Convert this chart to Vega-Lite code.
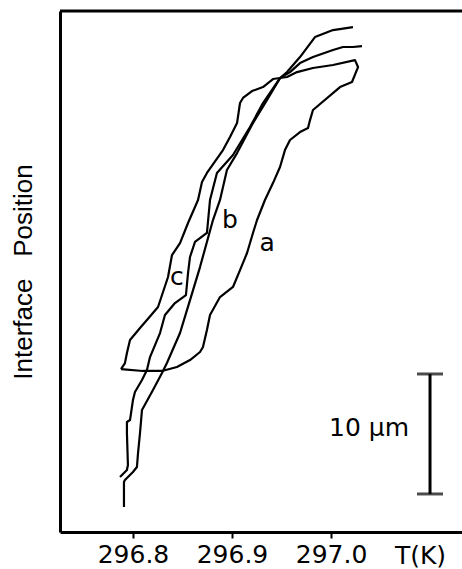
{
  "$schema": "https://vega.github.io/schema/vega-lite/v6.json",
  "width": 402,
  "height": 521,
  "autosize": "none",
  "padding": {"left": 60, "top": 11, "right": 0, "bottom": 37},
  "background": "white",
  "config": {"view": {"stroke": null}, "font": "DejaVu Sans"},
  "datasets": {
    "curves": [
      {"s": "a", "i": 1, "T": 296.7879, "pos": 13.58},
      {"s": "a", "i": 2, "T": 296.8101, "pos": 13.42},
      {"s": "a", "i": 3, "T": 296.8293, "pos": 13.42},
      {"s": "a", "i": 4, "T": 296.8444, "pos": 13.75},
      {"s": "a", "i": 5, "T": 296.8576, "pos": 14.33},
      {"s": "a", "i": 6, "T": 296.8677, "pos": 15.0},
      {"s": "a", "i": 7, "T": 296.8707, "pos": 15.42},
      {"s": "a", "i": 8, "T": 296.8747, "pos": 16.83},
      {"s": "a", "i": 9, "T": 296.8778, "pos": 18.08},
      {"s": "a", "i": 10, "T": 296.8879, "pos": 19.58},
      {"s": "a", "i": 11, "T": 296.901, "pos": 20.42},
      {"s": "a", "i": 12, "T": 296.9081, "pos": 21.83},
      {"s": "a", "i": 13, "T": 296.9152, "pos": 23.25},
      {"s": "a", "i": 14, "T": 296.9212, "pos": 24.92},
      {"s": "a", "i": 15, "T": 296.9253, "pos": 26.0},
      {"s": "a", "i": 16, "T": 296.9333, "pos": 27.67},
      {"s": "a", "i": 17, "T": 296.9414, "pos": 29.08},
      {"s": "a", "i": 18, "T": 296.9485, "pos": 30.42},
      {"s": "a", "i": 19, "T": 296.9535, "pos": 31.83},
      {"s": "a", "i": 20, "T": 296.9586, "pos": 32.67},
      {"s": "a", "i": 21, "T": 296.9687, "pos": 33.33},
      {"s": "a", "i": 22, "T": 296.9768, "pos": 33.67},
      {"s": "a", "i": 23, "T": 296.9788, "pos": 34.33},
      {"s": "a", "i": 24, "T": 296.9818, "pos": 35.17},
      {"s": "a", "i": 25, "T": 297.0091, "pos": 37.08},
      {"s": "a", "i": 26, "T": 297.0212, "pos": 37.5},
      {"s": "a", "i": 27, "T": 297.0273, "pos": 38.75},
      {"s": "a", "i": 28, "T": 297.0242, "pos": 39.33},
      {"s": "a", "i": 29, "T": 297.002, "pos": 38.92},
      {"s": "a", "i": 30, "T": 296.9818, "pos": 38.67},
      {"s": "a", "i": 31, "T": 296.9657, "pos": 38.33},
      {"s": "a", "i": 32, "T": 296.9556, "pos": 37.92},
      {"s": "a", "i": 33, "T": 296.9414, "pos": 37.75},
      {"s": "a", "i": 34, "T": 296.9313, "pos": 37.08},
      {"s": "a", "i": 35, "T": 296.9202, "pos": 36.75},
      {"s": "a", "i": 36, "T": 296.9111, "pos": 36.17},
      {"s": "a", "i": 37, "T": 296.9081, "pos": 35.75},
      {"s": "a", "i": 38, "T": 296.9051, "pos": 34.08},
      {"s": "a", "i": 39, "T": 296.898, "pos": 32.92},
      {"s": "a", "i": 40, "T": 296.8909, "pos": 31.83},
      {"s": "a", "i": 41, "T": 296.8747, "pos": 29.92},
      {"s": "a", "i": 42, "T": 296.8697, "pos": 29.17},
      {"s": "a", "i": 43, "T": 296.8657, "pos": 27.67},
      {"s": "a", "i": 44, "T": 296.8556, "pos": 25.75},
      {"s": "a", "i": 45, "T": 296.8475, "pos": 24.08},
      {"s": "a", "i": 46, "T": 296.8394, "pos": 23.08},
      {"s": "a", "i": 47, "T": 296.8354, "pos": 21.25},
      {"s": "a", "i": 48, "T": 296.8253, "pos": 18.75},
      {"s": "a", "i": 49, "T": 296.8141, "pos": 17.67},
      {"s": "a", "i": 50, "T": 296.8071, "pos": 17.0},
      {"s": "a", "i": 51, "T": 296.797, "pos": 16.0},
      {"s": "a", "i": 52, "T": 296.7939, "pos": 14.92},
      {"s": "a", "i": 53, "T": 296.7919, "pos": 14.08},
      {"s": "a", "i": 54, "T": 296.7879, "pos": 13.58},
      {"s": "c", "i": 1, "T": 296.7869, "pos": 4.58},
      {"s": "c", "i": 2, "T": 296.7939, "pos": 5.17},
      {"s": "c", "i": 3, "T": 296.7949, "pos": 5.58},
      {"s": "c", "i": 4, "T": 296.7939, "pos": 8.25},
      {"s": "c", "i": 5, "T": 296.7939, "pos": 9.17},
      {"s": "c", "i": 6, "T": 296.797, "pos": 9.33},
      {"s": "c", "i": 7, "T": 296.8, "pos": 11.0},
      {"s": "c", "i": 8, "T": 296.802, "pos": 11.67},
      {"s": "c", "i": 9, "T": 296.8091, "pos": 12.67},
      {"s": "c", "i": 10, "T": 296.8141, "pos": 13.5},
      {"s": "c", "i": 11, "T": 296.8172, "pos": 14.58},
      {"s": "c", "i": 12, "T": 296.8273, "pos": 16.58},
      {"s": "c", "i": 13, "T": 296.8323, "pos": 18.08},
      {"s": "c", "i": 14, "T": 296.8424, "pos": 19.08},
      {"s": "c", "i": 15, "T": 296.8535, "pos": 19.75},
      {"s": "c", "i": 16, "T": 296.8556, "pos": 21.58},
      {"s": "c", "i": 17, "T": 296.8576, "pos": 22.92},
      {"s": "c", "i": 18, "T": 296.8626, "pos": 24.17},
      {"s": "c", "i": 19, "T": 296.8747, "pos": 24.92},
      {"s": "c", "i": 20, "T": 296.8778, "pos": 27.67},
      {"s": "c", "i": 21, "T": 296.8848, "pos": 29.92},
      {"s": "c", "i": 22, "T": 296.901, "pos": 31.42},
      {"s": "c", "i": 23, "T": 296.9182, "pos": 33.75},
      {"s": "c", "i": 24, "T": 296.9313, "pos": 35.75},
      {"s": "c", "i": 25, "T": 296.9485, "pos": 37.83},
      {"s": "c", "i": 26, "T": 296.9586, "pos": 38.33},
      {"s": "c", "i": 27, "T": 296.9687, "pos": 39.08},
      {"s": "c", "i": 28, "T": 296.9818, "pos": 39.58},
      {"s": "c", "i": 29, "T": 297.002, "pos": 40.17},
      {"s": "c", "i": 30, "T": 297.0121, "pos": 40.42},
      {"s": "c", "i": 31, "T": 297.0222, "pos": 40.42},
      {"s": "c", "i": 32, "T": 297.0313, "pos": 40.5},
      {"s": "b", "i": 1, "T": 296.7909, "pos": 2.08},
      {"s": "b", "i": 2, "T": 296.7909, "pos": 4.17},
      {"s": "b", "i": 3, "T": 296.7919, "pos": 4.33},
      {"s": "b", "i": 4, "T": 296.8, "pos": 5.0},
      {"s": "b", "i": 5, "T": 296.804, "pos": 5.42},
      {"s": "b", "i": 6, "T": 296.8051, "pos": 6.58},
      {"s": "b", "i": 7, "T": 296.8071, "pos": 8.25},
      {"s": "b", "i": 8, "T": 296.8091, "pos": 10.17},
      {"s": "b", "i": 9, "T": 296.8202, "pos": 11.83},
      {"s": "b", "i": 10, "T": 296.8293, "pos": 13.25},
      {"s": "b", "i": 11, "T": 296.8343, "pos": 14.08},
      {"s": "b", "i": 12, "T": 296.8475, "pos": 16.58},
      {"s": "b", "i": 13, "T": 296.8576, "pos": 19.33},
      {"s": "b", "i": 14, "T": 296.8677, "pos": 22.08},
      {"s": "b", "i": 15, "T": 296.8808, "pos": 26.0},
      {"s": "b", "i": 16, "T": 296.8879, "pos": 27.67},
      {"s": "b", "i": 17, "T": 296.8949, "pos": 30.17},
      {"s": "b", "i": 18, "T": 296.9051, "pos": 31.58},
      {"s": "b", "i": 19, "T": 296.9212, "pos": 34.08},
      {"s": "b", "i": 20, "T": 296.9354, "pos": 36.0},
      {"s": "b", "i": 21, "T": 296.9485, "pos": 37.83},
      {"s": "b", "i": 22, "T": 296.9556, "pos": 38.33},
      {"s": "b", "i": 23, "T": 296.9687, "pos": 39.58},
      {"s": "b", "i": 24, "T": 296.9838, "pos": 41.25},
      {"s": "b", "i": 25, "T": 297.002, "pos": 41.83},
      {"s": "b", "i": 26, "T": 297.0222, "pos": 42.08}
    ],
    "bar": [{"T": 297.1, "lo": 3.17, "hi": 13.17}],
    "caps": [{"T": 297.1, "pos": 3.17}, {"T": 297.1, "pos": 13.17}],
    "frameTop": [{"pos": 43.42}],
    "labels": [
      {"label": "a", "T": 296.9354, "pos": 24.08},
      {"label": "b", "T": 296.898, "pos": 26.0},
      {"label": "c", "T": 296.8444, "pos": 21.25},
      {"label": "10  μm", "T": 297.0384, "pos": 8.67}
    ]
  },
  "layer": [
    {
      "data": {"name": "curves"},
      "mark": {"type": "line", "color": "black", "strokeWidth": 2.2, "strokeJoin": "round"},
      "encoding": {
        "x": {
          "field": "T", "type": "quantitative",
          "scale": {"domain": [296.7263, 297.1323], "nice": false, "zero": false},
          "axis": {
            "orient": "bottom", "values": [296.8, 296.9, 297.0], "format": ".1f",
            "grid": false, "domainColor": "black", "domainWidth": 3,
            "ticks": true, "tickColor": "black", "tickWidth": 2, "tickSize": 6,
            "labelFont": "DejaVu Sans", "labelFontSize": 25, "labelColor": "black", "labelPadding": 4,
            "title": "T(K)", "titleFont": "DejaVu Sans", "titleFontSize": 25, "titleFontWeight": "normal",
            "titleColor": "black", "titleX": 360, "titleY": 31, "titleBaseline": "alphabetic", "titleAlign": "center"
          }
        },
        "y": {
          "field": "pos", "type": "quantitative",
          "scale": {"domain": [0, 43.42], "nice": false, "zero": false},
          "axis": {
            "orient": "left", "grid": false, "ticks": false, "labels": false,
            "domain": true, "domainColor": "black", "domainWidth": 3,
            "title": "Interface\u00a0\u00a0 Position", "titleFont": "Liberation Sans", "titleFontSize": 26,
            "titleFontWeight": "normal", "titleColor": "black", "titlePadding": 24
          }
        },
        "detail": {"field": "s"},
        "order": {"field": "i", "type": "quantitative"}
      }
    },
    {
      "data": {"name": "frameTop"},
      "mark": {"type": "rule", "color": "black", "strokeWidth": 3},
      "encoding": {
        "y": {"field": "pos", "type": "quantitative"}
      }
    },
    {
      "data": {"name": "bar"},
      "mark": {"type": "rule", "color": "black", "strokeWidth": 3},
      "encoding": {
        "x": {"field": "T", "type": "quantitative"},
        "y": {"field": "lo", "type": "quantitative"},
        "y2": {"field": "hi"}
      }
    },
    {
      "data": {"name": "caps"},
      "mark": {"type": "tick", "orient": "horizontal", "color": "black", "size": 26, "thickness": 3},
      "encoding": {
        "x": {"field": "T", "type": "quantitative"},
        "y": {"field": "pos", "type": "quantitative"}
      }
    },
    {
      "data": {"name": "labels"},
      "mark": {"type": "text", "color": "black", "fontSize": 25, "font": "DejaVu Sans", "align": "center", "baseline": "middle"},
      "encoding": {
        "x": {"field": "T", "type": "quantitative"},
        "y": {"field": "pos", "type": "quantitative"},
        "text": {"field": "label"}
      }
    }
  ]
}
